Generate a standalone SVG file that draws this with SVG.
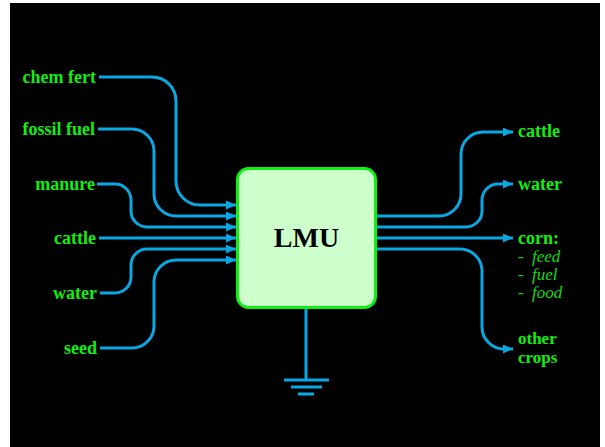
<svg xmlns="http://www.w3.org/2000/svg" width="605" height="447" viewBox="0 0 605 447">
<style>
.lbl{font-family:"Liberation Serif",serif;font-weight:bold;font-size:18px;fill:#11ee11}
.sub{font-family:"Liberation Serif",serif;font-style:italic;font-size:17px;fill:#11dd11}
.ln{fill:none;stroke:#0aa8e2;stroke-width:3}
</style>
<defs>
<marker id="ah" markerUnits="userSpaceOnUse" markerWidth="10" markerHeight="9" refX="10" refY="4.5" orient="auto">
<path d="M0,0 L10,4.5 L0,9 z" fill="#0aa8e2"/>
</marker>
</defs>
<rect x="0" y="0" width="605" height="447" fill="#ffffff"/>
<rect x="10" y="3" width="590" height="444" fill="#000000"/>
<g id="connectors">
<path class="ln" marker-end="url(#ah)" d="M99,77 H152 A24,24 0 0 1 176,101 V181 A24,24 0 0 0 200,205 H236"/>
<path class="ln" marker-end="url(#ah)" d="M98,129 H132 A22,22 0 0 1 154,151 V194 A22,22 0 0 0 176,216 H236"/>
<path class="ln" marker-end="url(#ah)" d="M97,184 H115 A16,16 0 0 1 131,200 V211 A16,16 0 0 0 147,227 H236"/>
<path class="ln" marker-end="url(#ah)" d="M99,238 H236"/>
<path class="ln" marker-end="url(#ah)" d="M100,293 H115 A16,16 0 0 0 131,277 V265 A16,16 0 0 1 147,249 H236"/>
<path class="ln" marker-end="url(#ah)" d="M100,348 H132 A22,22 0 0 0 154,326 V282 A22,22 0 0 1 176,260 H236"/>
<path class="ln" marker-end="url(#ah)" d="M377,216 H439 A22,22 0 0 0 461,194 V154 A22,22 0 0 1 483,132 H513"/>
<path class="ln" marker-end="url(#ah)" d="M377,227 H466 A16,16 0 0 0 482,211 V200 A16,16 0 0 1 498,184 H513"/>
<path class="ln" marker-end="url(#ah)" d="M377,238 H513"/>
<path class="ln" marker-end="url(#ah)" d="M377,249 H460 A22,22 0 0 1 482,271 V327 A22,22 0 0 0 504,349 H513"/>
<path class="ln" d="M306,309 V380 M284,380 H329 M291,387 H322 M298,394 H314"/>
</g>
<g id="lmu">
<rect x="237.5" y="168.5" width="138" height="139" rx="11" fill="#ccffcc" stroke="#11ee11" stroke-width="3"/>
<text x="306.5" y="247" text-anchor="middle" font-family="Liberation Serif,serif" font-weight="bold" font-size="28" fill="#000">LMU</text>
</g>
<g id="in-chemfert"><text class="lbl" x="96" y="83" text-anchor="end">chem fert</text></g>
<g id="in-fossilfuel"><text class="lbl" x="95" y="135" text-anchor="end">fossil fuel</text></g>
<g id="in-manure"><text class="lbl" x="95" y="190" text-anchor="end">manure</text></g>
<g id="in-cattle"><text class="lbl" x="96" y="244" text-anchor="end">cattle</text></g>
<g id="in-water"><text class="lbl" x="97" y="299" text-anchor="end">water</text></g>
<g id="in-seed"><text class="lbl" x="97" y="354" text-anchor="end">seed</text></g>
<g id="out-cattle"><text class="lbl" x="518" y="137">cattle</text></g>
<g id="out-water"><text class="lbl" x="518" y="190">water</text></g>
<g id="out-corn">
<text class="lbl" x="518" y="244">corn:</text>
<text class="sub" x="518" y="262">-<tspan x="532">feed</tspan></text>
<text class="sub" x="518" y="280">-<tspan x="532">fuel</tspan></text>
<text class="sub" x="518" y="298">-<tspan x="532">food</tspan></text>
</g>
<g id="out-othercrops">
<text class="lbl" style="font-size:17px" x="518" y="344">other</text>
<text class="lbl" style="font-size:17px" x="518" y="363">crops</text>
</g>
</svg>
